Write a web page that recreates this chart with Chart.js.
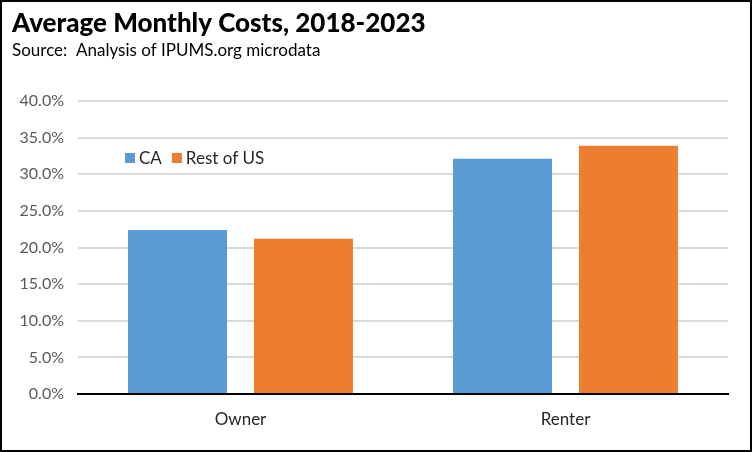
<!DOCTYPE html>
<html><head><meta charset="utf-8">
<script src="https://cdn.jsdelivr.net/npm/chart.js@4"></script>
<style>html,body{margin:0;padding:0;background:#fff}#wrap{width:752px;height:452px;position:relative}</style>
</head><body><div id="wrap"><canvas id="c" width="752" height="452"></canvas></div>
<script>
const categories = ["Owner", "Renter"];
const seriesNames = ["CA", "Rest of US"];
const caValues = [22.4, 32.1];
const restValues = [21.2, 33.9];
const yTicks = [0, 5, 10, 15, 20, 25, 30, 35, 40];
const titleText = "Average Monthly Costs, 2018-2023";
const subtitleText = "Source:  Analysis of IPUMS.org microdata";

const FONT = "Lato, 'Open Sans', sans-serif";

const decor = {
  id: 'decor',
  afterDraw(chart) {
    const ctx = chart.ctx;
    ctx.save();
    ctx.fillStyle = '#000';
    ctx.textAlign = 'left';
    ctx.textBaseline = 'alphabetic';
    ctx.font = "900 26px " + FONT;
    ctx.fillText(titleText, 12, 32);
    ctx.font = "17px " + FONT;
    ctx.fillText(subtitleText, 12, 56);
    // legend
    ctx.font = "17px " + FONT;
    ctx.textBaseline = 'middle';
    let x = 125; const y = 158;
    chart.data.datasets.forEach(ds => {
      ctx.fillStyle = ds.backgroundColor;
      ctx.fillRect(x, y - 5, 10, 10);
      ctx.fillStyle = '#262626';
      ctx.fillText(ds.label, x + 14, y + 1);
      x += 14 + ctx.measureText(ds.label).width + 10;
    });
    // border
    ctx.strokeStyle = '#000';
    ctx.lineWidth = 2;
    ctx.strokeRect(1, 1, 750, 450);
    ctx.restore();
  }
};

new Chart(document.getElementById('c'), {
  type: 'bar',
  data: {
    labels: categories,
    datasets: [
      { label: seriesNames[0], data: caValues, backgroundColor: '#5B9BD5' },
      { label: seriesNames[1], data: restValues, backgroundColor: '#ED7D31' }
    ]
  },
  options: {
    responsive: false,
    animation: false,
    devicePixelRatio: 1,
    layout: { padding: { top: 101, right: 24, left: 0, bottom: 0 } },
    datasets: { bar: { categoryPercentage: 0.775, barPercentage: 0.786 } },
    plugins: { legend: { display: false }, title: { display: false }, tooltip: { enabled: false } },
    scales: {
      x: {
        grid: { display: false, drawTicks: false },
        border: { display: true, color: '#000', width: 2 },
        ticks: { color: '#262626', font: { family: FONT, size: 17 }, padding: 15 },
        afterFit(s) { s.height = 58; }
      },
      y: {
        min: 0, max: 40,
        afterBuildTicks(s) { s.ticks = yTicks.map(v => ({ value: v })); },
        grid: { color: c => c.tick && c.tick.value === 0 ? '#000' : '#D9D9D9', lineWidth: 2, drawTicks: false },
        border: { display: false },
        ticks: { color: '#595959', font: { family: FONT, size: 16 }, padding: 14,
          callback: v => v.toFixed(1) + '%' },
        afterFit(s) { s.width = 78; }
      }
    }
  },
  plugins: [decor]
});
</script></body></html>
